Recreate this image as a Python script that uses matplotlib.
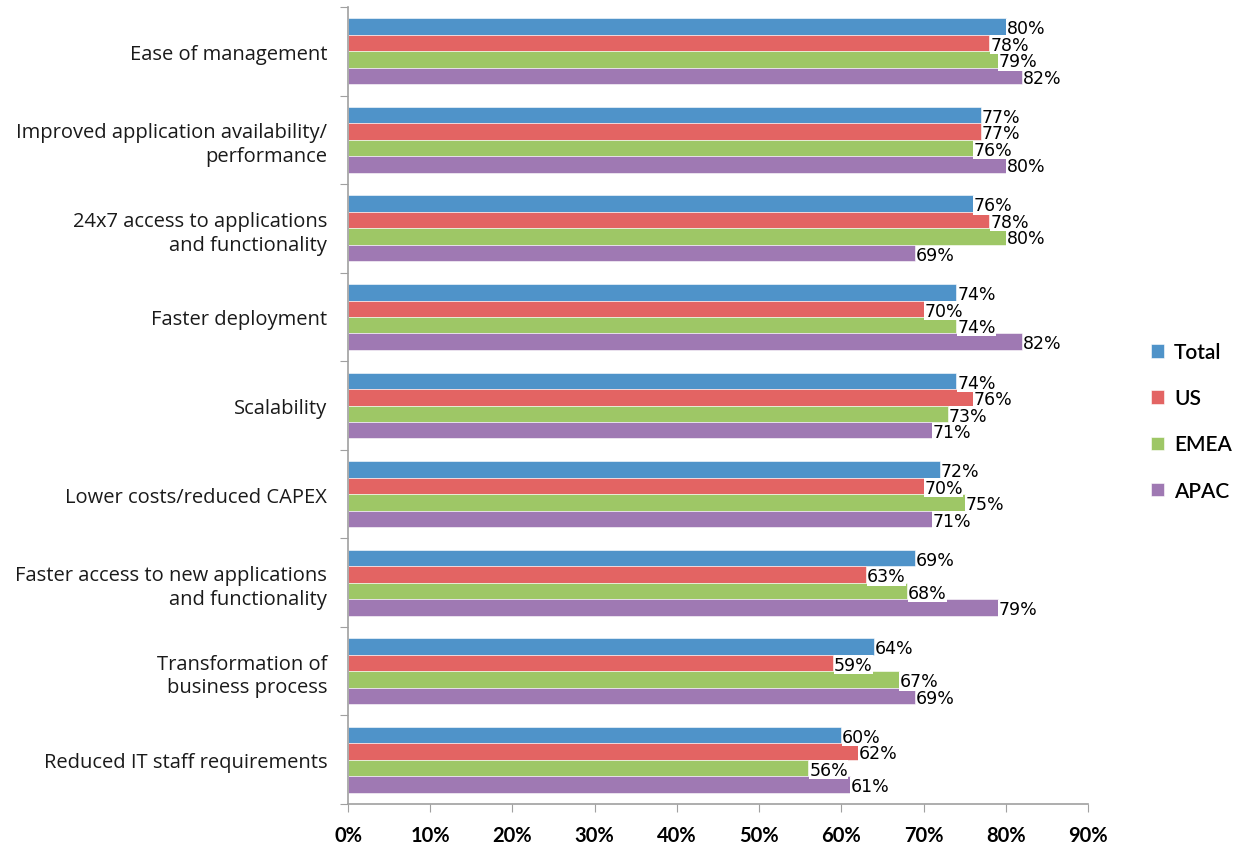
import numpy as np
import matplotlib.pyplot as plt

# survey: benefits of cloud / SaaS, by region
categories = ["Ease of management",
              "Improved application availability/\nperformance",
              "24x7 access to applications\nand functionality",
              "Faster deployment",
              "Scalability",
              "Lower costs/reduced CAPEX",
              "Faster access to new applications\nand functionality",
              "Transformation of\nbusiness process",
              "Reduced IT staff requirements"]
series = ["Total", "US", "EMEA", "APAC"]
total = [80, 77, 76, 74, 74, 72, 69, 64, 60]
us = [78, 77, 78, 70, 76, 70, 63, 59, 62]
emea = [79, 76, 80, 74, 73, 75, 68, 67, 56]
apac = [82, 80, 69, 82, 71, 71, 79, 69, 61]
colors = ["#4F93C9", "#E36463", "#9EC766", "#9F79B3"]

fig = plt.figure(figsize=(12.35, 8.45), dpi=100)
ax = fig.add_axes([0.2818, 0.0473, 0.881 - 0.2818, 0.9905 - 0.0473])

n = len(categories)
bh = 0.186
y0 = np.arange(n)
for k, (name, vals) in enumerate(zip(series, [total, us, emea, apac])):
    ys = y0 + (k - 1.5) * bh
    ax.barh(ys, vals, height=bh, color=colors[k], label=name,
            edgecolor="white", linewidth=0.4)
    for y, v in zip(ys, vals):
        ax.text(v + 0.1, y + 0.02, "{}%".format(v), va="center", ha="left",
                fontsize=12.5, family="DejaVu Sans", color="black",
                bbox=dict(facecolor="white", edgecolor="none", pad=0.2))

ax.set_xlim(0, 90)
ax.set_ylim(n - 0.5, -0.5)
ax.set_xticks(np.arange(0, 91, 10))
ax.set_xticklabels(["{}%".format(x) for x in range(0, 91, 10)],
                   fontsize=14.5, fontweight="bold", family="Lato")
ax.tick_params(axis="x", direction="out", length=6, color="#A0A0A0", pad=9)

# category separators on y axis, labels in between
ax.set_yticks(np.arange(-0.5, n, 1.0))
ax.set_yticklabels([])
ax.set_yticks(y0, minor=True)
ax.set_yticklabels(categories, minor=True, fontsize=14.5, family="Open Sans",
                   color="#1A1A1A", ha="right", linespacing=1.25)
ax.tick_params(axis="y", which="major", direction="out", length=6, color="#A0A0A0")
ax.tick_params(axis="y", which="minor", length=0, pad=15)

for s in ["top", "right"]:
    ax.spines[s].set_visible(False)
for s in ["left", "bottom"]:
    ax.spines[s].set_color("#A0A0A0")
    ax.spines[s].set_linewidth(1.2)

leg = ax.legend(loc="center left", bbox_to_anchor=(1.06, 0.48), frameon=False,
                prop={"family": "Lato", "size": 15, "weight": "semibold"},
                handlelength=0.6, handleheight=0.6, labelspacing=1.25,
                handletextpad=0.5)

fig.savefig("out.png", dpi=100)
